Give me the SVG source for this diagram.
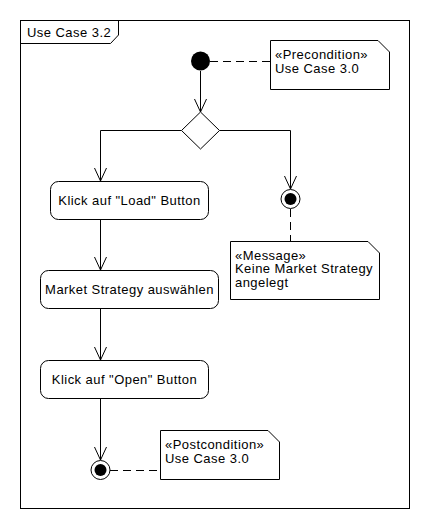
<svg xmlns="http://www.w3.org/2000/svg" width="430" height="530" viewBox="0 0 430 530">
<style>
text{font-family:"Liberation Sans",Arial,sans-serif;font-size:13px;letter-spacing:0.45px;fill:#000}
.s{fill:none;stroke:#000;stroke-width:1}
.n{fill:#fff;stroke:#000;stroke-width:1}
.d{fill:none;stroke:#000;stroke-width:1;stroke-dasharray:8 5}
.c{text-anchor:middle}
</style>
<defs>
<marker id="a" markerUnits="userSpaceOnUse" markerWidth="14" markerHeight="14" refX="13" refY="6" orient="auto" overflow="visible">
<path d="M0,0 L13,6 L0,12" fill="none" stroke="#000" stroke-width="1"/>
</marker>
</defs>
<rect width="430" height="530" fill="#fff"/>
<g id="frame">
<rect x="20.5" y="20.5" width="389" height="488" class="s"/>
<path d="M20.5,20.5 H118.5 V35 L110.5,43.5 H20.5" class="s"/>
<text x="27" y="37">Use Case 3.2</text>
</g>
<g id="connectors">
<path d="M200.5,71 V112" class="s" marker-end="url(#a)"/>
<path d="M181.5,130.5 H100.5 V181" class="s" marker-end="url(#a)"/>
<path d="M219.5,130.5 H290.5 V189" class="s" marker-end="url(#a)"/>
<path d="M100.5,219 V270" class="s" marker-end="url(#a)"/>
<path d="M100.5,309 V360" class="s" marker-end="url(#a)"/>
<path d="M100.5,399 V460" class="s" marker-end="url(#a)"/>
<path d="M210,61.5 H270" class="d"/>
<path d="M290.5,209 V241" class="d"/>
<path d="M110,470.5 H160" class="d"/>
</g>
<g id="initial">
<circle cx="200.5" cy="61" r="9.5" fill="#000"/>
</g>
<g id="precondition">
<path d="M270.5,40.5 H378 L389.5,52 V89.5 H270.5 Z" class="n"/>
<text x="275" y="59">«Precondition»</text>
<text x="275" y="73">Use Case 3.0</text>
</g>
<g id="decision">
<path d="M200.5,112 L219.5,130.5 L200.5,149 L181.5,130.5 Z" class="n"/>
</g>
<g id="load">
<rect x="50.5" y="181.5" width="158" height="38" rx="8" class="n"/>
<text x="129.5" y="204.5" class="c">Klick auf "Load" Button</text>
</g>
<g id="end-message">
<circle cx="290.5" cy="199" r="9.5" class="n"/>
<circle cx="290.5" cy="199" r="6" fill="#000"/>
</g>
<g id="message">
<path d="M230.5,241.5 H368 L379.5,253 V299.5 H230.5 Z" class="n"/>
<text x="235" y="259.5">«Message»</text>
<text x="235" y="273">Keine Market Strategy</text>
<text x="235" y="287">angelegt</text>
</g>
<g id="market">
<rect x="40.5" y="270.5" width="178" height="38" rx="8" class="n"/>
<text x="129.5" y="294" class="c">Market Strategy auswählen</text>
</g>
<g id="open">
<rect x="40.5" y="360.5" width="168" height="38" rx="8" class="n"/>
<text x="124.5" y="384" class="c">Klick auf "Open" Button</text>
</g>
<g id="end">
<circle cx="100.5" cy="470" r="9.5" class="n"/>
<circle cx="100.5" cy="470" r="6" fill="#000"/>
</g>
<g id="postcondition">
<path d="M160.5,430.5 H268 L279.5,442 V479.5 H160.5 Z" class="n"/>
<text x="165" y="449">«Postcondition»</text>
<text x="165" y="463">Use Case 3.0</text>
</g>
</svg>
